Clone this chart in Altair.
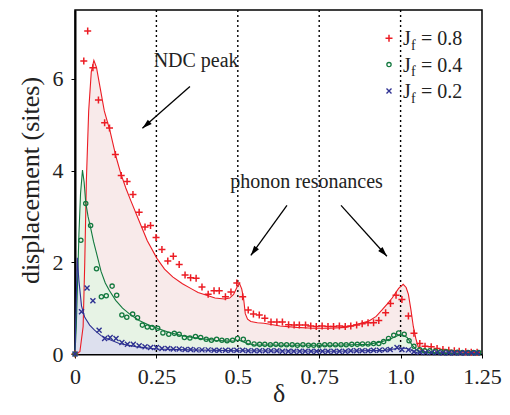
import math
import altair as alt
import pandas as pd

# ---------------- data ----------------
red_curve_x = [0.0, 0.015, 0.025, 0.03, 0.035, 0.042, 0.05, 0.058, 0.066, 0.076, 0.09, 0.108, 0.126, 0.14,
               0.156, 0.171, 0.197, 0.222, 0.252, 0.275, 0.3, 0.33, 0.358, 0.378, 0.409, 0.43, 0.459, 0.475,
               0.487, 0.497, 0.505, 0.512, 0.518, 0.523, 0.53, 0.54, 0.56, 0.58, 0.63, 0.681, 0.731, 0.782,
               0.832, 0.863, 0.903, 0.925, 0.943, 0.96, 0.974, 0.994, 1.008, 1.017, 1.024, 1.032, 1.039,
               1.047, 1.054, 1.064, 1.074, 1.1, 1.15, 1.25]
red_curve_y = [0.0, 0.05, 0.6, 2.0, 3.8, 5.3, 6.15, 6.40, 6.25, 5.85, 5.3, 4.85, 4.3, 3.95,
               3.62, 3.35, 2.9, 2.47, 2.08, 1.85, 1.68, 1.53, 1.42, 1.34, 1.27, 1.22, 1.2, 1.22,
               1.3, 1.45, 1.54, 1.42, 1.2, 0.88, 0.76, 0.71, 0.68, 0.67, 0.61, 0.58, 0.56, 0.56,
               0.58, 0.64, 0.72, 0.82, 0.96, 1.1, 1.22, 1.43, 1.52, 1.45, 1.3, 0.95, 0.6,
               0.33, 0.16, 0.08, 0.05, 0.03, 0.02, 0.02]

green_curve_x = [0.0, 0.004, 0.008, 0.012, 0.017, 0.023, 0.028, 0.033, 0.04, 0.048, 0.057, 0.066, 0.08,
                 0.093, 0.106, 0.125, 0.146, 0.17, 0.197, 0.225, 0.257, 0.29, 0.328, 0.38, 0.43, 0.47,
                 0.495, 0.505, 0.515, 0.53, 0.55, 0.65, 0.8, 0.9, 0.94, 0.97, 0.99, 1.005, 1.02, 1.035,
                 1.05, 1.07, 1.1, 1.25]
green_curve_y = [0.0, 0.6, 1.6, 2.6, 3.5, 4.01, 3.75, 3.3, 3.0, 2.75, 2.45, 2.2, 1.8,
                 1.55, 1.38, 1.17, 1.0, 0.86, 0.73, 0.64, 0.55, 0.47, 0.40, 0.34, 0.30, 0.28,
                 0.29, 0.30, 0.27, 0.23, 0.20, 0.19, 0.19, 0.21, 0.26, 0.33, 0.40, 0.42, 0.36, 0.20,
                 0.08, 0.04, 0.02, 0.01]

blue_curve_x = [0.0, 0.004, 0.007, 0.012, 0.02, 0.03, 0.045, 0.06, 0.08, 0.1, 0.136, 0.187, 0.25, 0.35,
                0.5, 0.8, 0.95, 1.0, 1.02, 1.05, 1.25]
blue_curve_y = [0.0, 1.2, 2.1, 1.6, 1.05, 0.8, 0.63, 0.52, 0.4, 0.33, 0.23, 0.16, 0.11, 0.09,
                0.07, 0.06, 0.08, 0.13, 0.12, 0.03, 0.01]

red_pts_x = [0.0, 0.027, 0.039, 0.055, 0.072, 0.091, 0.106, 0.124, 0.142, 0.160, 0.178, 0.197, 0.215,
             0.232, 0.249, 0.267, 0.285, 0.302, 0.320, 0.338, 0.355, 0.372, 0.390, 0.409, 0.427, 0.443,
             0.462, 0.479, 0.497, 0.515, 0.532, 0.548, 0.566, 0.583, 0.602, 0.620, 0.637, 0.656, 0.673,
             0.689, 0.708, 0.724, 0.741, 0.759, 0.777, 0.794, 0.812, 0.830, 0.847, 0.865, 0.882, 0.900,
             0.917, 0.933, 0.954, 0.969, 0.986, 1.004, 1.024, 1.041, 1.059, 1.075, 1.094, 1.112, 1.130,
             1.148, 1.165, 1.180, 1.200, 1.217, 1.235]
red_pts_y = [0.0, 6.39, 7.04, 6.24, 5.54, 5.04, 4.93, 4.35, 3.89, 3.76, 3.48, 3.09, 2.77,
             2.80, 2.54, 2.28, 2.03, 2.13, 1.95, 1.72, 1.66, 1.65, 1.46, 1.30, 1.38, 1.38,
             1.25, 1.35, 1.55, 1.25, 0.96, 0.87, 0.85, 0.78, 0.70, 0.70, 0.70, 0.64, 0.63,
             0.63, 0.63, 0.61, 0.60, 0.61, 0.60, 0.60, 0.61, 0.60, 0.61, 0.63, 0.66, 0.68,
             0.68, 0.73, 0.90, 1.10, 1.28, 1.19, 0.83, 0.45, 0.23, 0.17, 0.16, 0.12, 0.10,
             0.08, 0.07, 0.06, 0.05, 0.04, 0.04]

green_pts_x = [0.0, 0.018, 0.033, 0.048, 0.066, 0.081, 0.096, 0.114, 0.128, 0.144, 0.159, 0.177, 0.192,
               0.207, 0.222, 0.237, 0.254, 0.270, 0.288, 0.305, 0.320, 0.336, 0.353, 0.370, 0.386, 0.403,
               0.419, 0.435, 0.451, 0.467, 0.484, 0.499, 0.517, 0.532, 0.550, 0.567, 0.583, 0.600, 0.617,
               0.633, 0.650, 0.667, 0.683, 0.700, 0.717, 0.733, 0.750, 0.767, 0.783, 0.800, 0.817, 0.833,
               0.850, 0.867, 0.883, 0.900, 0.917, 0.933, 0.948, 0.963, 0.979, 0.994, 1.011, 1.026, 1.041,
               1.059, 1.074, 1.090, 1.107, 1.124, 1.140, 1.157, 1.174, 1.190, 1.207, 1.224, 1.240]
green_pts_y = [0.0, 2.48, 3.28, 2.80, 1.86, 1.25, 1.27, 1.48, 1.28, 0.85, 0.80, 0.87, 0.79,
               0.63, 0.59, 0.58, 0.56, 0.46, 0.43, 0.45, 0.43, 0.36, 0.35, 0.38, 0.36, 0.32,
               0.30, 0.32, 0.30, 0.29, 0.30, 0.34, 0.32, 0.25, 0.22, 0.21, 0.21, 0.20, 0.21,
               0.20, 0.20, 0.20, 0.19, 0.20, 0.19, 0.19, 0.19, 0.20, 0.20, 0.20, 0.20, 0.20,
               0.21, 0.21, 0.22, 0.22, 0.23, 0.23, 0.27, 0.34, 0.41, 0.46, 0.43, 0.29, 0.17,
               0.09, 0.07, 0.07, 0.06, 0.05, 0.05, 0.04, 0.04, 0.03, 0.03, 0.03, 0.03]

blue_pts_x = [0.0, 0.020, 0.037, 0.055, 0.074, 0.091, 0.108, 0.126, 0.144, 0.161, 0.179, 0.197, 0.215,
              0.232, 0.250, 0.267, 0.285, 0.302, 0.320, 0.338, 0.355, 0.372, 0.390, 0.409, 0.427, 0.443,
              0.462, 0.479, 0.497, 0.515, 0.532, 0.550, 0.567, 0.585, 0.602, 0.620, 0.637, 0.655, 0.672,
              0.690, 0.707, 0.725, 0.742, 0.760, 0.777, 0.795, 0.812, 0.830, 0.847, 0.865, 0.882, 0.900,
              0.917, 0.935, 0.952, 0.968, 0.989, 1.004, 1.024, 1.041, 1.059, 1.077, 1.095, 1.112, 1.130,
              1.148, 1.165, 1.183, 1.200, 1.218, 1.235]
blue_pts_y = [0.0, 0.92, 1.44, 1.16, 0.52, 0.34, 0.36, 0.34, 0.25, 0.21, 0.21, 0.18, 0.16,
              0.14, 0.14, 0.12, 0.12, 0.11, 0.11, 0.10, 0.10, 0.09, 0.09, 0.09, 0.08, 0.08,
              0.08, 0.08, 0.08, 0.08, 0.07, 0.07, 0.07, 0.07, 0.07, 0.07, 0.06, 0.06, 0.06,
              0.06, 0.06, 0.06, 0.06, 0.06, 0.06, 0.06, 0.06, 0.06, 0.07, 0.07, 0.07, 0.07,
              0.08, 0.08, 0.09, 0.10, 0.14, 0.10, 0.09, 0.05, 0.04, 0.03, 0.03, 0.03, 0.02,
              0.02, 0.02, 0.02, 0.02, 0.02, 0.02]

vlines_x = [0.25, 0.5, 0.75, 1.0]
x_ticks = [0, 0.25, 0.5, 0.75, 1.0, 1.25]
y_ticks = [0, 2, 4, 6]

legend_labels = ["= 0.8", "= 0.4", "= 0.2"]

annot_text = ["NDC peak", "phonon resonances"]
annot_x = [0.372, 0.711]
annot_y = [6.26, 3.61]

arrow_x1 = [0.353, 0.651, 0.817]
arrow_y1 = [5.83, 3.24, 3.24]
arrow_x2 = [0.207, 0.540, 0.958]
arrow_y2 = [4.92, 2.15, 2.13]

# ---------------- styling ----------------
W, H = 407, 344
XMAX, YMAX = 1.25, 7.5
FONT = "Liberation Serif"
RED, GREEN, BLUE = "#ec1c24", "#12783e", "#2e3192"
RED_FILL, GREEN_FILL, BLUE_FILL = "#f8eaea", "#e7f3e5", "#dde0ee"

xscale = alt.Scale(domain=[0, XMAX], nice=False, zero=False)
yscale = alt.Scale(domain=[0, YMAX], nice=False)
xaxis = alt.Axis(values=x_ticks, labelExpr="datum.value == 1 ? '1.0' : '' + datum.value",
                 title="δ", grid=False, tickSize=4, labelPadding=25, labelBaseline="alphabetic",
                 titleX=W / 2, titleY=47, titleBaseline="alphabetic", titleAlign="center",
                 labelFlush=False)
yaxis = alt.Axis(values=y_ticks, title="displacement (sites)", grid=False, tickSize=4,
                 labelPadding=8, titleX=-37, titleY=170, titleAngle=270,
                 titleBaseline="alphabetic", titleAlign="center", labelFlush=False)


def X(field="x"):
    return alt.X(f"{field}:Q", scale=xscale, axis=xaxis)


def Y(field="y"):
    return alt.Y(f"{field}:Q", scale=yscale, axis=yaxis)


def df(xs, ys):
    return pd.DataFrame({"x": xs, "y": ys})


layers = []
# filled areas
for xs, ys, fc in [(red_curve_x, red_curve_y, RED_FILL),
                   (green_curve_x, green_curve_y, GREEN_FILL),
                   (blue_curve_x, blue_curve_y, BLUE_FILL)]:
    layers.append(alt.Chart(df(xs, ys)).mark_area(color=fc, opacity=1).encode(x=X(), y=Y()))

# dotted verticals
layers.append(alt.Chart(pd.DataFrame({"x": vlines_x})).mark_rule(
    color="black", strokeDash=[2, 3], strokeWidth=1.4).encode(x=X()))

# curves
for xs, ys, c in [(red_curve_x, red_curve_y, RED),
                  (green_curve_x, green_curve_y, GREEN),
                  (blue_curve_x, blue_curve_y, BLUE)]:
    layers.append(alt.Chart(df(xs, ys)).mark_line(color=c, strokeWidth=1.1).encode(x=X(), y=Y()))

PLUS = "M-1,0L1,0M0,-1L0,1"
CROSS = "M-1,-1L1,1M1,-1L-1,1"
layers.append(alt.Chart(df(red_pts_x, red_pts_y)).mark_point(
    shape=PLUS, filled=False, color=RED, size=49, strokeWidth=1.5, opacity=1).encode(x=X(), y=Y()))
layers.append(alt.Chart(df(green_pts_x, green_pts_y)).mark_point(
    shape="circle", filled=False, color=GREEN, size=18, strokeWidth=1.3, opacity=1).encode(x=X(), y=Y()))
layers.append(alt.Chart(df(blue_pts_x, blue_pts_y)).mark_point(
    shape=CROSS, filled=False, color=BLUE, size=25, strokeWidth=1.4, opacity=1).encode(x=X(), y=Y()))

# arrows
arr = pd.DataFrame({"x1": arrow_x1, "y1": arrow_y1, "x2": arrow_x2, "y2": arrow_y2})
ang = []
for a, b, c, d in zip(arrow_x1, arrow_y1, arrow_x2, arrow_y2):
    dx = (c - a) * W / XMAX
    dy = -(d - b) * H / YMAX
    ang.append(math.degrees(math.atan2(dx, -dy)) % 360)
arr["angle"] = ang
layers.append(alt.Chart(arr).mark_rule(color="black", strokeWidth=1.3).encode(
    x=X("x1"), y=Y("y1"), x2="x2:Q", y2="y2:Q"))
layers.append(alt.Chart(arr).mark_point(
    shape="M0,0L-0.42,1.4L0.42,1.4Z", filled=True, color="black", size=196, opacity=1,
    strokeWidth=0).encode(x=X("x2"), y=Y("y2"), angle=alt.Angle("angle:Q", scale=None)))

# annotation text
ann = pd.DataFrame({"x": annot_x, "y": annot_y, "t": annot_text})
layers.append(alt.Chart(ann).mark_text(font=FONT, fontSize=20, color="#222", align="center",
                                       baseline="alphabetic").encode(x=X(), y=Y(), text="t:N"))

# legend (custom, for the subscript)
leg_shapes = [(PLUS, RED, 49, 1.5), ("circle", GREEN, 18, 1.3), (CROSS, BLUE, 25, 1.4)]
for i, (lab, (shp, col, sz, sw)) in enumerate(zip(legend_labels, leg_shapes)):
    ym = 28.3 + 26.3 * i
    yb = 35 + 26.5 * i
    one = pd.DataFrame({"t": [lab], "j": ["J"], "f": ["f"]})
    layers.append(alt.Chart(one).mark_point(shape=shp, filled=False, color=col, size=sz,
                                            strokeWidth=sw, opacity=1).encode(
        x=alt.value(314), y=alt.value(ym)))
    layers.append(alt.Chart(one).mark_text(font=FONT, fontSize=20, color="#222", align="left",
                                           baseline="alphabetic").encode(
        x=alt.value(328), y=alt.value(yb), text="j:N"))
    layers.append(alt.Chart(one).mark_text(font=FONT, fontSize=14, color="#222", align="left",
                                           baseline="alphabetic").encode(
        x=alt.value(336), y=alt.value(yb + 4.5), text="f:N"))
    layers.append(alt.Chart(one).mark_text(font=FONT, fontSize=20, color="#222", align="left",
                                           baseline="alphabetic").encode(
        x=alt.value(346), y=alt.value(yb), text="t:N"))

chart = alt.layer(*layers).properties(
    width=W, height=H,
    padding={"left": 67, "top": 2, "right": 20, "bottom": 53},
    autosize=alt.AutoSizeParams(type="none"),
).configure_view(stroke="black", strokeWidth=1.5).configure_axis(
    labelFont=FONT, labelFontSize=22, labelColor="#222", titleFont=FONT, titleFontSize=26,
    titleFontWeight="normal", titleColor="#222", domainColor="black", domainWidth=2,
    tickColor="black", tickWidth=1
)

chart.save("out.html", embed_options={"renderer": "svg", "actions": False})
